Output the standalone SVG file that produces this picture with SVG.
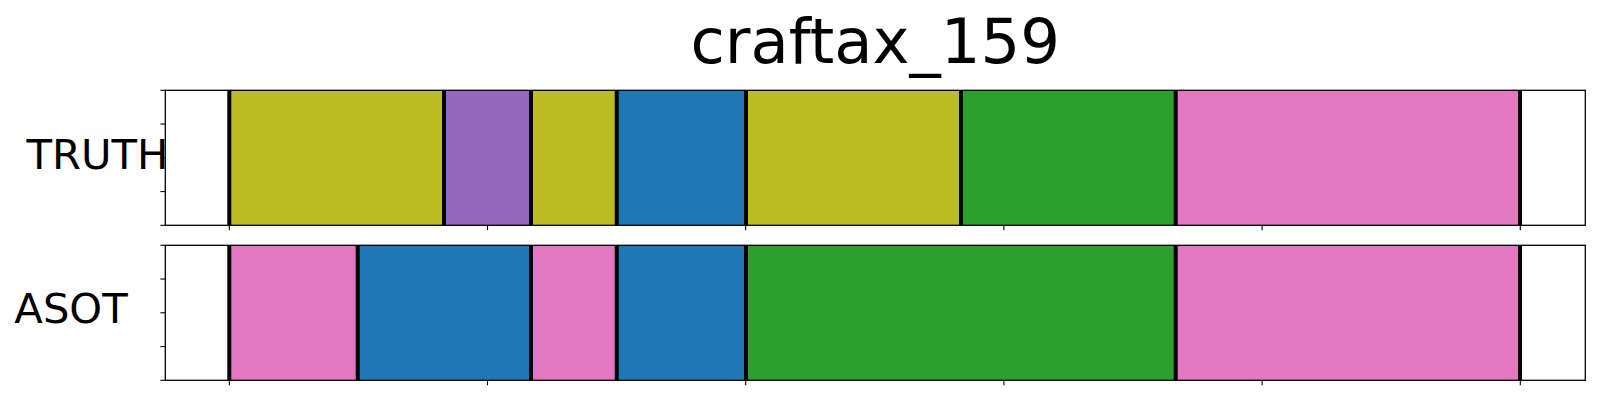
<svg xmlns="http://www.w3.org/2000/svg" width="1600" height="400" viewBox="0 0 1600 400">
<style>
text{font-family:"DejaVu Sans","Liberation Sans",sans-serif;fill:#000}
.title{font-size:62.5px;text-anchor:middle}
.lab{font-size:41.7px;text-anchor:middle}
.olive{fill:#bcbd22}.purple{fill:#9467bd}.blue{fill:#1f77b4}.green{fill:#2ca02c}.pink{fill:#e377c2}
.bound{stroke:#000;stroke-width:4}
.spine{fill:none;stroke:#000;stroke-width:1.3}
.tick{stroke:#000;stroke-width:1.1}
</style>
<rect width="1600" height="400" fill="#fff"/>
<g id="title"><text class="title" x="875.3" y="63.3">craftax_159</text></g>

<g id="truth">
<rect class="olive" x="229.3" y="90.3" width="214.7" height="135"/>
<rect class="purple" x="444" y="90.3" width="87" height="135"/>
<rect class="olive" x="531" y="90.3" width="85.7" height="135"/>
<rect class="blue" x="616.7" y="90.3" width="129.3" height="135"/>
<rect class="olive" x="746" y="90.3" width="215" height="135"/>
<rect class="green" x="961" y="90.3" width="214.7" height="135"/>
<rect class="pink" x="1175.7" y="90.3" width="344.3" height="135"/>
<g class="bound">
<line x1="229.3" y1="90.3" x2="229.3" y2="225.3"/>
<line x1="444" y1="90.3" x2="444" y2="225.3"/>
<line x1="531" y1="90.3" x2="531" y2="225.3"/>
<line x1="616.7" y1="90.3" x2="616.7" y2="225.3"/>
<line x1="746" y1="90.3" x2="746" y2="225.3"/>
<line x1="961" y1="90.3" x2="961" y2="225.3"/>
<line x1="1175.7" y1="90.3" x2="1175.7" y2="225.3"/>
<line x1="1520" y1="90.3" x2="1520" y2="225.3"/>
</g>
<rect class="spine" x="165.3" y="90.3" width="1420" height="135"/>
<g class="tick">
<line x1="160.4" y1="90.3" x2="165.3" y2="90.3"/>
<line x1="160.4" y1="124.05" x2="165.3" y2="124.05"/>
<line x1="160.4" y1="157.8" x2="165.3" y2="157.8"/>
<line x1="160.4" y1="191.55" x2="165.3" y2="191.55"/>
<line x1="160.4" y1="225.3" x2="165.3" y2="225.3"/>
<line x1="229.3" y1="225.3" x2="229.3" y2="230.2"/>
<line x1="487.5" y1="225.3" x2="487.5" y2="230.2"/>
<line x1="745.7" y1="225.3" x2="745.7" y2="230.2"/>
<line x1="1003.9" y1="225.3" x2="1003.9" y2="230.2"/>
<line x1="1262.1" y1="225.3" x2="1262.1" y2="230.2"/>
<line x1="1520.3" y1="225.3" x2="1520.3" y2="230.2"/>
</g>
<text class="lab" x="97.5" y="169.3">TRUTH</text>
</g>

<g id="asot">
<rect class="pink" x="229.3" y="245.3" width="128.4" height="135"/>
<rect class="blue" x="357.7" y="245.3" width="173.3" height="135"/>
<rect class="pink" x="531" y="245.3" width="85.7" height="135"/>
<rect class="blue" x="616.7" y="245.3" width="129.3" height="135"/>
<rect class="green" x="746" y="245.3" width="429.7" height="135"/>
<rect class="pink" x="1175.7" y="245.3" width="344.3" height="135"/>
<g class="bound">
<line x1="229.3" y1="245.3" x2="229.3" y2="380.3"/>
<line x1="357.7" y1="245.3" x2="357.7" y2="380.3"/>
<line x1="531" y1="245.3" x2="531" y2="380.3"/>
<line x1="616.7" y1="245.3" x2="616.7" y2="380.3"/>
<line x1="746" y1="245.3" x2="746" y2="380.3"/>
<line x1="1175.7" y1="245.3" x2="1175.7" y2="380.3"/>
<line x1="1520" y1="245.3" x2="1520" y2="380.3"/>
</g>
<rect class="spine" x="165.3" y="245.3" width="1420" height="135"/>
<g class="tick">
<line x1="160.4" y1="245.3" x2="165.3" y2="245.3"/>
<line x1="160.4" y1="279.05" x2="165.3" y2="279.05"/>
<line x1="160.4" y1="312.8" x2="165.3" y2="312.8"/>
<line x1="160.4" y1="346.55" x2="165.3" y2="346.55"/>
<line x1="160.4" y1="380.3" x2="165.3" y2="380.3"/>
<line x1="229.3" y1="380.3" x2="229.3" y2="385.2"/>
<line x1="487.5" y1="380.3" x2="487.5" y2="385.2"/>
<line x1="745.7" y1="380.3" x2="745.7" y2="385.2"/>
<line x1="1003.9" y1="380.3" x2="1003.9" y2="385.2"/>
<line x1="1262.1" y1="380.3" x2="1262.1" y2="385.2"/>
<line x1="1520.3" y1="380.3" x2="1520.3" y2="385.2"/>
</g>
<text class="lab" x="71" y="322.7">ASOT</text>
</g>
<g id="connectors"/>
</svg>
